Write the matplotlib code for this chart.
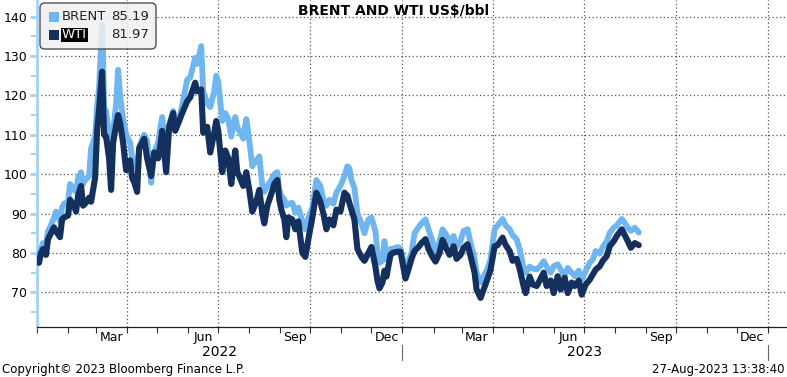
import matplotlib
matplotlib.use("Agg")
import matplotlib.pyplot as plt
import matplotlib.dates as mdates
from matplotlib.patches import FancyBboxPatch, Rectangle
import pandas as pd

# values (US$/bbl)
dates = [
    "2022-01-03", "2022-01-05", "2022-01-07", "2022-01-10", "2022-01-12", "2022-01-14",
    "2022-01-18", "2022-01-20", "2022-01-24", "2022-01-26", "2022-01-28", "2022-02-01",
    "2022-02-03", "2022-02-07", "2022-02-09", "2022-02-11", "2022-02-14", "2022-02-16",
    "2022-02-18", "2022-02-22", "2022-02-24", "2022-02-28", "2022-03-02", "2022-03-04",
    "2022-03-07", "2022-03-08", "2022-03-09", "2022-03-11", "2022-03-14", "2022-03-16",
    "2022-03-18", "2022-03-21", "2022-03-23", "2022-03-25", "2022-03-28", "2022-03-31",
    "2022-04-04", "2022-04-06", "2022-04-08", "2022-04-11", "2022-04-13", "2022-04-18",
    "2022-04-21", "2022-04-25", "2022-04-28", "2022-05-02", "2022-05-04", "2022-05-06",
    "2022-05-10", "2022-05-13", "2022-05-17", "2022-05-19", "2022-05-23", "2022-05-26",
    "2022-05-31", "2022-06-03", "2022-06-08", "2022-06-10", "2022-06-14", "2022-06-16",
    "2022-06-20", "2022-06-23", "2022-06-27", "2022-06-29", "2022-07-01", "2022-07-05",
    "2022-07-08", "2022-07-11", "2022-07-14", "2022-07-18", "2022-07-20", "2022-07-22",
    "2022-07-26", "2022-07-29", "2022-08-01", "2022-08-04", "2022-08-08", "2022-08-11",
    "2022-08-14", "2022-08-16", "2022-08-19", "2022-08-23", "2022-08-26", "2022-08-29",
    "2022-08-31", "2022-09-02", "2022-09-05", "2022-09-07", "2022-09-09", "2022-09-13",
    "2022-09-16", "2022-09-19", "2022-09-23", "2022-09-26", "2022-09-29", "2022-10-03",
    "2022-10-07", "2022-10-11", "2022-10-14", "2022-10-17", "2022-10-20", "2022-10-24",
    "2022-10-27", "2022-10-31", "2022-11-04", "2022-11-07", "2022-11-09", "2022-11-11",
    "2022-11-14", "2022-11-17", "2022-11-21", "2022-11-24", "2022-11-28", "2022-12-01",
    "2022-12-05", "2022-12-07", "2022-12-09", "2022-12-12", "2022-12-14", "2022-12-16",
    "2022-12-20", "2022-12-22", "2022-12-27", "2022-12-30",
    "2023-01-04", "2023-01-06", "2023-01-10", "2023-01-13", "2023-01-17", "2023-01-20",
    "2023-01-24", "2023-01-27", "2023-01-31", "2023-02-03", "2023-02-07", "2023-02-10",
    "2023-02-14", "2023-02-17", "2023-02-21", "2023-02-24", "2023-02-28", "2023-03-03",
    "2023-03-07", "2023-03-10", "2023-03-14", "2023-03-16", "2023-03-20", "2023-03-23",
    "2023-03-27", "2023-03-30", "2023-04-03", "2023-04-06", "2023-04-11", "2023-04-14",
    "2023-04-18", "2023-04-21", "2023-04-25", "2023-04-28", "2023-05-02", "2023-05-04",
    "2023-05-08", "2023-05-11", "2023-05-15", "2023-05-18", "2023-05-22", "2023-05-25",
    "2023-05-29", "2023-06-01", "2023-06-05", "2023-06-08", "2023-06-12", "2023-06-15",
    "2023-06-19", "2023-06-22", "2023-06-26", "2023-06-29", "2023-07-03", "2023-07-07",
    "2023-07-10", "2023-07-13", "2023-07-17", "2023-07-20", "2023-07-24", "2023-07-27",
    "2023-07-31", "2023-08-03", "2023-08-08", "2023-08-10", "2023-08-14", "2023-08-17",
    "2023-08-21", "2023-08-25",
]

brent = [
    79.5, 81.0, 82.5, 82.0, 85.5, 86.5,
    89.0, 90.5, 88.0, 91.5, 92.5, 93.0,
    97.5, 96.0, 95.5, 99.0, 100.5, 97.5,
    98.5, 99.5, 106.5, 109.5, 117.0, 122.0,
    138.0, 130.0, 117.0, 116.0, 110.0, 100.5,
    110.5, 118.0, 126.5, 120.0, 114.0, 110.0,
    108.0, 104.0, 103.5, 101.5, 107.0, 110.0,
    108.5, 97.8, 105.5, 108.0, 111.5, 114.5,
    105.0, 112.5, 116.0, 113.0, 114.0, 117.5,
    124.0, 124.5, 129.5, 128.0, 132.5, 121.0,
    118.0, 117.0, 121.0, 125.0, 123.5, 113.5,
    115.5, 114.0, 109.5, 114.5, 112.0, 111.0,
    109.0, 114.0, 108.5, 102.0, 103.5, 104.5,
    97.0, 95.5, 97.0, 98.5, 100.0, 100.5,
    96.0, 94.5, 93.5, 92.0, 92.5, 92.7,
    90.2, 91.5, 88.0, 86.0, 89.0, 91.5,
    98.5, 97.0, 93.5, 92.0, 93.5, 92.5,
    95.3, 97.0, 99.5, 102.0, 101.5, 98.5,
    96.5, 90.0, 87.5, 85.0, 88.5, 89.0,
    85.5, 80.0, 77.5, 78.0, 83.0, 78.5,
    81.0, 81.0, 81.5, 81.2,
    75.8, 77.5, 80.0, 85.0, 86.5, 87.5,
    88.5, 86.0, 83.0, 79.0, 83.0, 86.0,
    84.5, 82.5, 84.3, 81.5, 83.0, 85.6,
    86.0, 82.5, 78.5, 75.0, 72.5, 74.0,
    76.0, 78.5, 86.0, 87.0, 88.6, 87.0,
    86.0, 84.5, 83.5, 81.0, 76.0, 75.0,
    76.5, 76.0, 75.8, 76.5, 77.9, 76.5,
    75.0, 76.6, 77.1, 75.8, 74.1, 76.2,
    75.0, 74.1, 75.5, 73.2, 75.4, 77.5,
    78.3, 80.5, 79.8, 81.5, 83.0, 85.1,
    86.4, 87.0, 88.6, 88.0, 86.4, 85.6,
    86.4, 85.19,
]

wti = [
    77.5, 80.0, 81.0, 79.5, 83.5, 84.5,
    86.5, 85.5, 84.0, 88.5, 89.0, 89.5,
    93.5, 92.0, 90.5, 94.5, 97.0, 92.0,
    92.5, 94.0, 93.0, 99.0, 111.0, 116.5,
    126.0, 118.0, 110.0, 109.5, 104.0, 96.0,
    108.0, 112.5, 115.0, 113.0, 108.0, 101.0,
    103.5, 99.0, 98.0, 95.5, 106.5, 109.0,
    104.0, 99.5, 105.5, 104.0, 107.0, 111.0,
    100.5, 112.0, 115.5, 111.0, 113.5, 115.5,
    118.5, 119.5, 123.2, 121.0, 121.5, 110.5,
    112.0, 105.5, 110.5, 113.5, 111.0, 100.5,
    106.0, 104.0, 97.5, 106.0, 100.5, 99.5,
    97.0, 100.5, 96.0, 90.5, 93.0, 96.0,
    90.0, 87.5, 92.0, 95.0, 97.5, 98.5,
    93.5, 91.0, 88.5, 84.0, 89.0, 88.5,
    86.0, 88.0, 80.0, 79.0, 83.5, 89.0,
    95.3, 93.0, 90.0, 86.0, 88.5, 87.0,
    91.0, 90.5, 95.3, 94.5, 92.6, 91.0,
    88.5, 81.0, 79.0, 78.0, 80.0, 81.5,
    76.5, 73.0, 71.0, 72.5, 75.5, 74.0,
    79.5, 80.0, 80.3, 80.3,
    73.5, 75.0, 78.5, 80.5, 81.5, 82.5,
    83.5, 81.0, 79.0, 77.8, 80.0, 83.3,
    81.0, 79.5, 81.7, 78.5, 79.5, 81.3,
    82.2, 79.2, 75.0, 70.7, 68.6, 70.7,
    73.5, 75.8, 81.7, 82.0, 83.9, 82.0,
    80.5, 78.0, 78.5, 76.0, 71.5, 69.8,
    74.0, 72.0, 71.6, 73.0, 75.0, 71.6,
    73.0, 69.8, 74.1, 70.7, 73.7, 69.8,
    72.5, 71.6, 73.0, 69.4, 72.0, 73.2,
    74.5, 75.8, 76.6, 78.0, 79.2, 81.7,
    83.0, 84.3, 86.0, 85.0, 83.0, 81.3,
    82.5, 81.97,
]

x = pd.to_datetime(dates)

brent_col = "#6fb5f0"
wti_col = "#14305f"
axis_blue = "#a6d2f6"

fig = plt.figure(figsize=(7.87, 3.77), dpi=100)
ax = fig.add_axes([37 / 787, 1 - 327 / 377, 1 - 37 / 787, 327 / 377])

ax.plot(x, brent, color=brent_col, lw=4.2, solid_joinstyle="round", solid_capstyle="round", zorder=3)
ax.plot(x, wti, color=wti_col, lw=4.4, solid_joinstyle="round", solid_capstyle="round", zorder=4)

ax.set_xlim(pd.Timestamp("2022-01-01"), pd.Timestamp("2024-01-20"))
ax.set_ylim(61.2, 144.2)

# y axis
ax.set_yticks(range(70, 141, 10))
ax.set_yticks(range(65, 141, 5), minor=True)
ax.tick_params(axis="y", which="major", length=5, width=2, color=axis_blue, labelsize=9, pad=2)
ax.tick_params(axis="y", which="minor", length=4, width=1.5, color=axis_blue)
ax.grid(axis="y", which="major", color="#555555", ls=(0, (1, 2)), lw=0.9)

# x axis: month ticks, labels mid-month, gridlines at quarter ends
ax.xaxis.set_minor_locator(mdates.MonthLocator())
ax.xaxis.set_major_locator(mdates.MonthLocator(bymonth=[3, 6, 9, 12], bymonthday=16))
ax.xaxis.set_major_formatter(mdates.DateFormatter("%b"))
ax.tick_params(axis="x", which="major", length=0, labelsize=9, pad=3)
ax.tick_params(axis="x", which="minor", length=4, width=0.8, color="#333333")
for q in pd.date_range("2022-04-01", "2024-01-01", freq="QS"):
    ax.axvline(q, color="#555555", ls=(0, (1, 2)), lw=0.9, zorder=1)

# year labels and separators
for yr in [2022, 2023]:
    ax.text(pd.Timestamp(f"{yr}-07-02"), -0.075, str(yr), transform=ax.get_xaxis_transform(),
            ha="center", va="center", fontsize=10)
for sep in ["2023-01-01", "2024-01-01"]:
    ax.plot([pd.Timestamp(sep)] * 2, [-0.055, -0.1], transform=ax.get_xaxis_transform(),
            color="#666666", lw=0.8, clip_on=False)

for s in ["top", "right"]:
    ax.spines[s].set_visible(False)
ax.spines["left"].set_color(axis_blue)
ax.spines["left"].set_linewidth(2)
ax.spines["bottom"].set_color("#222222")
ax.spines["bottom"].set_linewidth(0.9)

# title
fig.text(0.5, 1 - 11 / 377, "BRENT AND WTI US$/bbl", ha="center", va="center",
         fontsize=10, fontweight="bold")

# legend box
W, H = 787, 377
box = FancyBboxPatch((40 / W, 1 - 49 / H), 116 / W, 46 / H, transform=fig.transFigure,
                     boxstyle="round,pad=0,rounding_size=0.006", mutation_aspect=W / H,
                     facecolor="#f0f0f0", edgecolor="#333333", lw=1.0, alpha=0.85, zorder=5)
fig.patches.append(box)
for row, (name, col, val) in enumerate([("BRENT", brent_col, brent[-1]), ("WTI", wti_col, wti[-1])]):
    yc = 1 - (17 + 18 * row) / H
    fig.patches.append(Rectangle((49 / W, yc - 5 / H), 10 / W, 10 / H, transform=fig.transFigure,
                                 facecolor=col, edgecolor="none", zorder=6))
    if name == "WTI":
        fig.text(62 / W, yc, name, ha="left", va="center", fontsize=9.5, color="white", zorder=7,
                 bbox=dict(facecolor="black", edgecolor="none", pad=0.6))
    else:
        fig.text(62 / W, yc, name, ha="left", va="center", fontsize=9.5, color="#222222", zorder=7)
    fig.text(149 / W, yc, f"{val:.2f}", ha="right", va="center", fontsize=9.5, color="#222222", zorder=7)

# footer
fig.text(2 / W, 1 - 369 / H, "Copyright\u00a9 2023 Bloomberg Finance L.P.", ha="left", va="center",
         fontsize=8.5)
fig.text(1 - 3 / W, 1 - 369 / H, "27-Aug-2023 13:38:40", ha="right", va="center", fontsize=8.5)

fig.savefig("out.png", dpi=100)
